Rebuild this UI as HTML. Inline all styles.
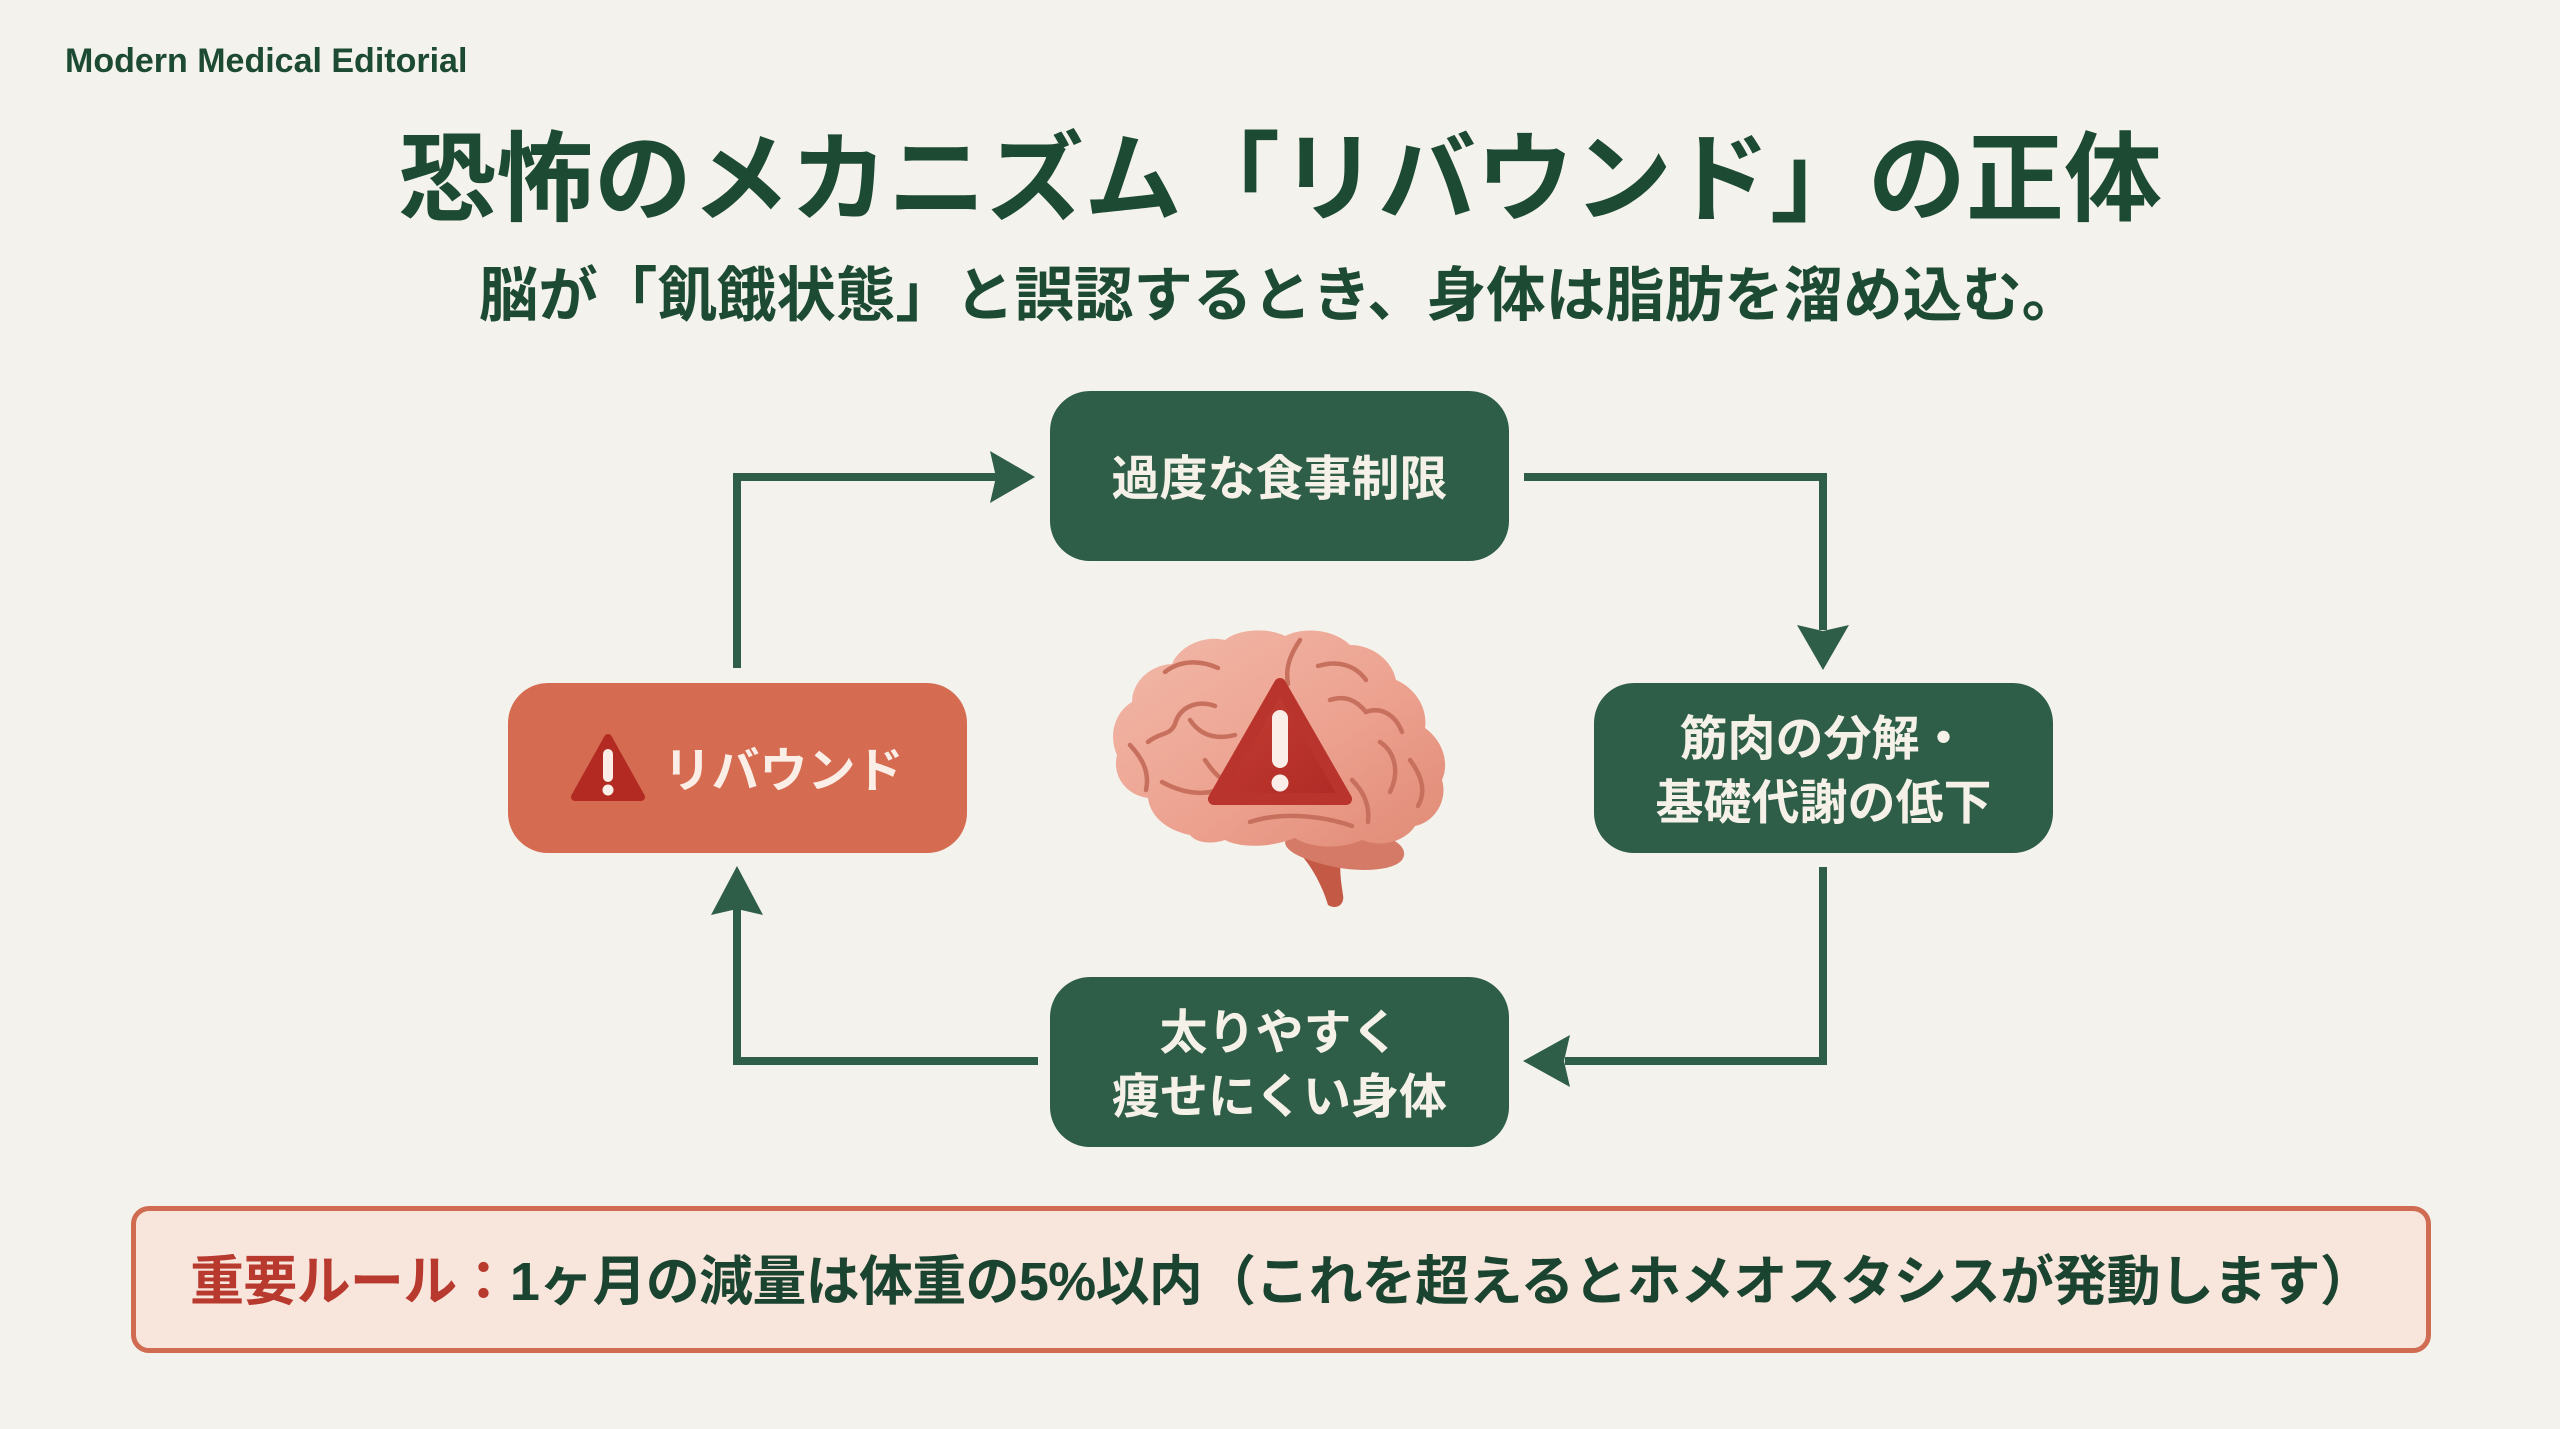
<!DOCTYPE html>
<html lang="ja">
<head>
<meta charset="UTF-8">
<style>
  html, body { margin:0; padding:0; }
  body {
    width:2560px; height:1429px; overflow:hidden; position:relative;
    background:#f4f2ec;
    font-family:"Liberation Sans","Noto Sans CJK JP",sans-serif;
  }
  .abs { position:absolute; }
  .brand {
    left:65px; top:44px; font-size:34px; line-height:34px; font-weight:700;
    color:#1d4a32; white-space:nowrap;
  }
  .title {
    left:0; width:2560px; top:130px; height:98px; line-height:98px;
    text-align:center; font-size:98px; font-weight:700; color:#1d4a32; white-space:nowrap;
  }
  .sub {
    left:0; width:2560px; top:266px; height:60px; line-height:60px;
    text-align:center; font-size:59.5px; font-weight:700; color:#1d4a32; white-space:nowrap;
  }
  .box {
    position:absolute; width:459px; height:170px; border-radius:40px;
    background:#2e5e47; color:#f6f1e8;
    display:flex; align-items:center; justify-content:center; text-align:center;
    font-size:48px; line-height:64px; font-weight:700; white-space:nowrap;
    box-sizing:border-box; padding-top:8px;
  }
  .coral { background:#d56c52; color:#fbeee6; }
  .rule {
    position:absolute; left:131px; top:1206px; width:2290px; height:137px;
    border:5px solid #cf6c52; border-radius:18px; background:#f8e5dc;
  }
  .ruletext {
    position:absolute; left:190px; top:1255px; height:54px; line-height:54px;
    font-size:54px; font-weight:700; letter-spacing:-0.7px; color:#1a4330; white-space:nowrap;
  }
  .ruletext .red { color:#b83a2e; }
  svg { position:absolute; left:0; top:0; }
</style>
</head>
<body>
  <div class="abs brand">Modern Medical Editorial</div>
  <div class="abs title">恐怖のメカニズム「リバウンド」の正体</div>
  <div class="abs sub">脳が「飢餓状態」と誤認するとき、身体は脂肪を溜め込む。</div>

  <div class="box" style="left:1050px; top:391px;">過度な食事制限</div>
  <div class="box" style="left:1594px; top:683px;">筋肉の分解・<br>基礎代謝の低下</div>
  <div class="box" style="left:1050px; top:977px;">太りやすく<br>痩せにくい身体</div>
  <div class="box coral" style="left:508px; top:683px;"><span style="display:inline-block; width:92px;"></span>リバウンド</div>

  <div class="rule"></div>
  <div class="ruletext"><span class="red">重要ルール：</span>1ヶ月の減量は体重の5%以内（これを超えるとホメオスタシスが発動します）</div>

  <svg width="2560" height="1429" viewBox="0 0 2560 1429" xmlns="http://www.w3.org/2000/svg">
    <defs>
      <linearGradient id="brainG" x1="0" y1="0" x2="1" y2="1">
        <stop offset="0" stop-color="#f2b9a9"/>
        <stop offset="0.55" stop-color="#eda290"/>
        <stop offset="1" stop-color="#e08a76"/>
      </linearGradient>
      <linearGradient id="triG" x1="0" y1="0" x2="1" y2="1">
        <stop offset="0" stop-color="#c43f35"/>
        <stop offset="1" stop-color="#b02a25"/>
      </linearGradient>
    </defs>

    <!-- connectors -->
    <g fill="none" stroke="#2e5e47" stroke-width="8" stroke-linejoin="miter">
      <path d="M737,668 V477 H996"/>
      <path d="M1524,477 H1823 V630"/>
      <path d="M1823,867 V1061 H1565"/>
      <path d="M1038,1061 H737 V908"/>
    </g>
    <g fill="#2e5e47">
      <polygon points="1035,477 990,451 996,477 990,503"/>
      <polygon points="1823,670 1797,625 1823,631 1849,625"/>
      <polygon points="1523,1061 1570,1035 1564,1061 1570,1087"/>
      <polygon points="737,866 711,915 737,909 763,915"/>
    </g>

    <!-- left box warning triangle -->
    <polygon points="608,738 641,797 575,797" fill="#b32a22" stroke="#b32a22" stroke-width="8" stroke-linejoin="round"/>
    <rect x="603" y="749" width="10" height="33" rx="5" fill="#fbeee8"/>
    <circle cx="608" cy="790" r="5.5" fill="#fbeee8"/>

    <!-- brain -->
    <path d="M1282,838 C1300,850 1318,872 1328,905 C1336,910 1345,905 1343,895 C1340,875 1338,860 1345,845 Z" fill="#c45a46"/>
    <path d="M1285,842 C1295,828 1330,826 1365,832 C1395,836 1410,848 1402,860 C1392,872 1355,872 1330,866 C1305,860 1285,852 1285,842 Z" fill="#d47a66"/>
    <path d="M1190,835
      C1165,830 1150,815 1148,798
      C1125,795 1112,775 1117,755
      C1108,735 1115,712 1132,702
      C1132,682 1150,665 1172,664
      C1180,645 1205,635 1225,640
      C1240,628 1270,628 1285,636
      C1305,626 1335,630 1350,645
      C1372,645 1392,660 1396,680
      C1415,688 1428,708 1425,728
      C1442,740 1450,762 1442,780
      C1448,800 1435,822 1415,826
      C1405,842 1380,848 1362,840
      C1340,850 1310,848 1295,838
      C1270,848 1240,848 1225,840
      C1210,845 1195,842 1190,835 Z" fill="url(#brainG)"/>
    <g fill="none" stroke="#c8705e" stroke-width="4.5" stroke-linecap="round">
      <path d="M1165,672 C1180,660 1200,660 1218,668"/>
      <path d="M1148,742 C1160,732 1170,736 1175,724 C1180,706 1198,700 1215,706"/>
      <path d="M1190,720 C1200,735 1215,740 1235,735"/>
      <path d="M1130,745 C1142,758 1150,772 1146,790"/>
      <path d="M1162,782 C1180,792 1200,796 1218,790"/>
      <path d="M1318,666 C1338,660 1355,665 1366,680"/>
      <path d="M1330,700 C1345,695 1356,700 1366,712 C1382,706 1396,716 1402,732"/>
      <path d="M1380,742 C1395,752 1400,772 1390,792"/>
      <path d="M1410,760 C1422,776 1426,792 1418,806"/>
      <path d="M1250,822 C1280,812 1320,815 1352,826"/>
      <path d="M1352,780 C1364,792 1370,806 1368,822"/>
      <path d="M1300,640 C1290,655 1285,668 1288,684"/>
      <path d="M1205,760 C1215,775 1225,785 1240,785"/>
    </g>
    <polygon points="1280,684 1346,799 1214,799" fill="url(#triG)" stroke="#b8342c" stroke-width="12" stroke-linejoin="round"/>
    <rect x="1272" y="710" width="16" height="58" rx="8" fill="#fbeee8"/>
    <circle cx="1280" cy="783" r="8.5" fill="#fbeee8"/>
  </svg>
</body>
</html>
